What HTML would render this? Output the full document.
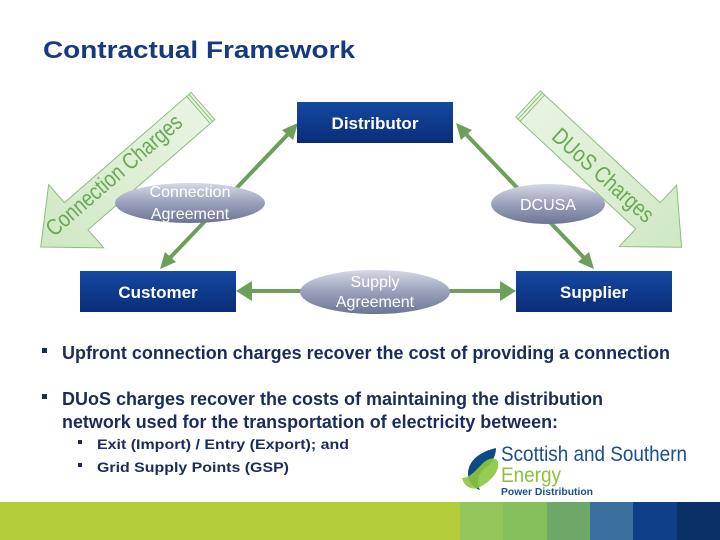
<!DOCTYPE html>
<html><head><meta charset="utf-8"><style>
html,body{margin:0;padding:0;background:#fff;}
svg{display:block;}
</style></head><body>
<svg width="720" height="540" viewBox="0 0 720 540" xmlns="http://www.w3.org/2000/svg" font-family="Liberation Sans, Arial, sans-serif">
<defs>
<linearGradient id="box" x1="0" y1="0" x2="0" y2="1"><stop offset="0" stop-color="#1448a0"/><stop offset="1" stop-color="#0a2d78"/></linearGradient>
<linearGradient id="ell" x1="0" y1="0" x2="0" y2="1"><stop offset="0" stop-color="#d4d8e6"/><stop offset="0.5" stop-color="#9aa0ba"/><stop offset="1" stop-color="#6d7594"/></linearGradient>
<linearGradient id="arr" x1="0" y1="0" x2="1" y2="0"><stop offset="0" stop-color="#e8f4e2"/><stop offset="1" stop-color="#cfe8c4"/></linearGradient>
</defs>
<text x="43" y="58" font-size="24" font-weight="bold" fill="#153a80" textLength="312" lengthAdjust="spacingAndGlyphs">Contractual Framework</text>

<g transform="translate(203,106) rotate(139)">
<polygon points="0,-18 168,-18 168,-42 215,0 168,42 168,18 0,18" fill="url(#arr)" stroke="#8cbf7c" stroke-width="1"/>
<line x1="3" y1="-18" x2="3" y2="18" stroke="#8cbf7c"/><line x1="6" y1="-18" x2="6" y2="18" stroke="#8cbf7c"/>
</g>
<text transform="translate(119,181) rotate(-41)" text-anchor="middle" font-size="23" fill="#6aa855" textLength="172" lengthAdjust="spacingAndGlyphs">Connection Charges</text>
<g transform="translate(528,104) rotate(43)">
<polygon points="0,-18 164,-18 164,-42 210,0 164,42 164,18 0,18" fill="url(#arr)" stroke="#8cbf7c" stroke-width="1"/>
<line x1="3" y1="-18" x2="3" y2="18" stroke="#8cbf7c"/><line x1="6" y1="-18" x2="6" y2="18" stroke="#8cbf7c"/>
</g>
<text transform="translate(598,181) rotate(42)" text-anchor="middle" font-size="23" fill="#6aa855" textLength="128" lengthAdjust="spacingAndGlyphs">DUoS Charges</text>

<g stroke="#6c9f5a" stroke-width="4" fill="#6c9f5a">
<line x1="166" y1="262" x2="292" y2="130"/>
<line x1="462" y1="130" x2="588" y2="262"/>
<line x1="248" y1="291" x2="505" y2="291"/>
</g>
<g fill="#6c9f5a">
<polygon points="298,123 282,130 293,140"/>
<polygon points="160,269 165,252 176,262"/>
<polygon points="456,123 472,130 461,140"/>
<polygon points="594,269 589,252 578,262"/>
<polygon points="236,291 252,281 252,301"/>
<polygon points="516,291 500,281 500,301"/>
</g>

<rect x="297" y="102" width="156" height="41" fill="url(#box)"/>
<text x="375" y="129" text-anchor="middle" font-size="17" font-weight="bold" fill="#fff">Distributor</text>
<rect x="80" y="271" width="156" height="41" fill="url(#box)"/>
<text x="158" y="298" text-anchor="middle" font-size="17" font-weight="bold" fill="#fff">Customer</text>
<rect x="516" y="271" width="156" height="41" fill="url(#box)"/>
<text x="594" y="298" text-anchor="middle" font-size="17" font-weight="bold" fill="#fff">Supplier</text>

<ellipse cx="190" cy="203" rx="75" ry="20" fill="url(#ell)"/>
<text x="190" y="197" text-anchor="middle" font-size="16" fill="#fff">Connection</text>
<text x="190" y="219" text-anchor="middle" font-size="16" fill="#fff">Agreement</text>
<ellipse cx="548" cy="204" rx="57" ry="20" fill="url(#ell)"/>
<text x="548" y="210" text-anchor="middle" font-size="16" fill="#fff">DCUSA</text>
<ellipse cx="375" cy="292" rx="75" ry="22" fill="url(#ell)"/>
<text x="375" y="287" text-anchor="middle" font-size="16" fill="#fff">Supply</text>
<text x="375" y="307" text-anchor="middle" font-size="16" fill="#fff">Agreement</text>

<g fill="#1a2c5e" font-weight="bold">
<rect x="42" y="348" width="5" height="5"/>
<text x="62" y="359" font-size="18" textLength="608" lengthAdjust="spacingAndGlyphs">Upfront connection charges recover the cost of providing a connection</text>
<rect x="42" y="394" width="5" height="5"/>
<text x="62" y="405" font-size="18" textLength="541" lengthAdjust="spacingAndGlyphs">DUoS charges recover the costs of maintaining the distribution</text>
<text x="62" y="428" font-size="18" textLength="496" lengthAdjust="spacingAndGlyphs">network used for the transportation of electricity between:</text>
<rect x="78" y="440" width="4" height="4"/>
<text x="97" y="449" font-size="14" textLength="252" lengthAdjust="spacingAndGlyphs">Exit (Import) / Entry (Export); and</text>
<rect x="78" y="463" width="4" height="4"/>
<text x="97" y="472" font-size="14" textLength="192" lengthAdjust="spacingAndGlyphs">Grid Supply Points (GSP)</text>
</g>

<path d="M496,448 C478,452 468,462 468,474 C468,482 474,488 480,490 C476,482 478,472 488,466 C492,462 496,456 496,448 Z" fill="#0d4a86"/>
<path d="M462,478 C470,478 476,470 482,464 C488,458 496,456 498,462 C500,472 490,482 478,488 C470,490 464,486 462,478 Z" fill="#8cc63e" opacity="0.9"/>
<text x="501" y="461" font-size="21" fill="#1a4f8f" textLength="186" lengthAdjust="spacingAndGlyphs">Scottish and Southern</text>
<text x="501" y="482" font-size="21" fill="#8cc03e" textLength="60" lengthAdjust="spacingAndGlyphs">Energy</text>
<text x="501" y="495" font-size="10" font-weight="bold" fill="#1a4f8f" textLength="92" lengthAdjust="spacingAndGlyphs">Power Distribution</text>

<rect x="0" y="502" width="460" height="38" fill="#b3cc3a"/>
<rect x="460" y="502" width="43" height="38" fill="#92c55a"/>
<rect x="503" y="502" width="44" height="38" fill="#86c05a"/>
<rect x="547" y="502" width="43" height="38" fill="#6ea868"/>
<rect x="590" y="502" width="43" height="38" fill="#3a6fa0"/>
<rect x="633" y="502" width="44" height="38" fill="#0f3f88"/>
<rect x="677" y="502" width="43" height="38" fill="#0a3068"/>
</svg>
</body></html>
